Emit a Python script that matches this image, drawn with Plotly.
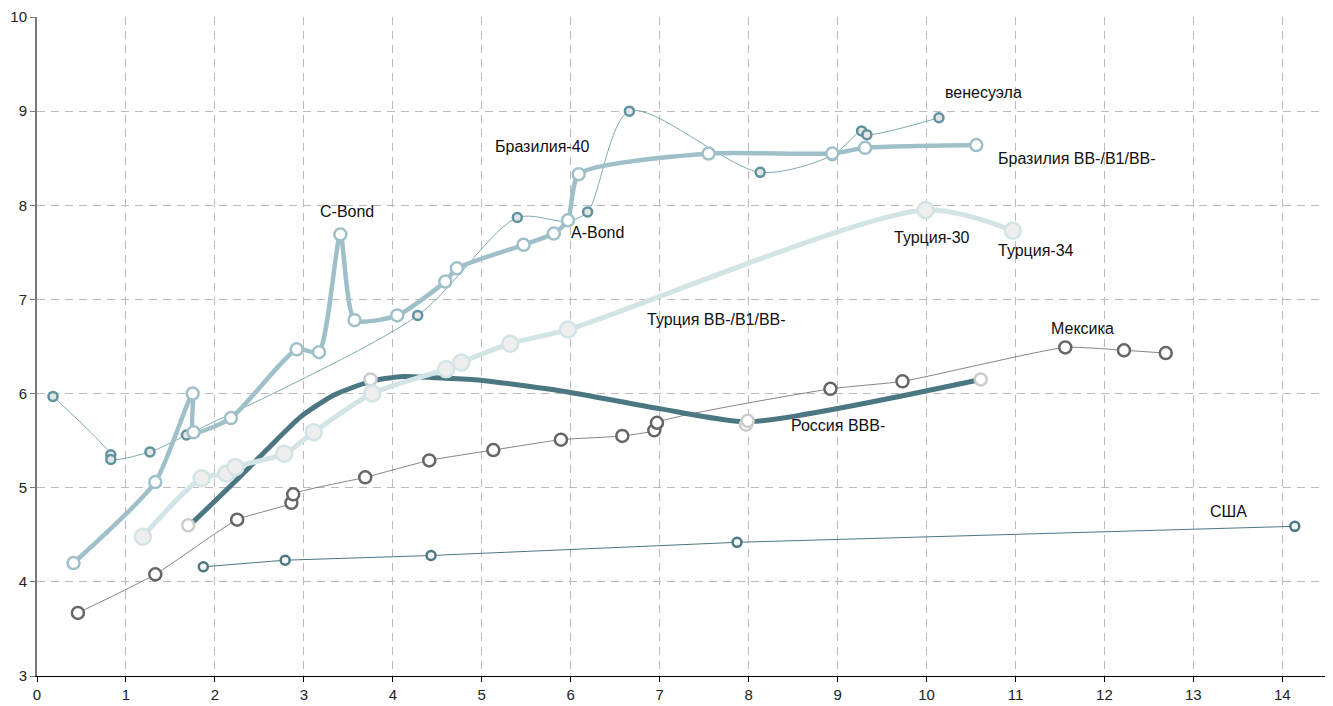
import plotly.graph_objects as go

# ---- data ----
usa_x = [1.87, 2.79, 4.43, 7.87, 14.14]
usa_y = [4.16, 4.23, 4.28, 4.42, 4.59]

mex_x = [0.46, 1.33, 2.25, 2.86, 2.88, 3.69, 4.41, 5.13, 5.89, 6.58, 6.94, 6.97, 8.92, 9.73, 11.56, 12.22, 12.69]
mex_y = [3.67, 4.08, 4.66, 4.84, 4.93, 5.11, 5.29, 5.40, 5.51, 5.55, 5.61, 5.69, 6.05, 6.13, 6.49, 6.46, 6.43]

rus_curve_x = [1.76, 2.21, 2.58, 2.96, 3.33, 3.75, 4.08, 4.64, 5.01, 5.95, 7.00, 8.00, 10.61]
rus_curve_y = [4.64, 5.05, 5.40, 5.75, 5.98, 6.13, 6.18, 6.16, 6.14, 6.02, 5.84, 5.70, 6.15]
rus_bond_x = [1.70, 3.75, 7.97, 7.99, 10.61]
rus_bond_y = [4.60, 6.15, 5.67, 5.71, 6.15]

tur_x = [1.19, 1.85, 2.13, 2.23, 2.78, 3.11, 3.77, 4.60, 4.77, 5.32, 5.97, 9.99, 10.97]
tur_y = [4.48, 5.10, 5.15, 5.22, 5.36, 5.59, 6.00, 6.26, 6.33, 6.53, 6.68, 7.95, 7.73]

bra_x = [0.41, 1.33, 1.75, 1.76, 2.18, 2.92, 3.17, 3.41, 3.57, 4.05, 4.59, 4.72, 5.47, 5.81, 5.97, 6.09, 7.55, 8.94, 9.31, 10.56]
bra_y = [4.20, 5.06, 6.00, 5.59, 5.74, 6.47, 6.44, 7.69, 6.78, 6.83, 7.19, 7.33, 7.58, 7.70, 7.84, 8.33, 8.55, 8.55, 8.61, 8.64]

ven_x = [0.18, 0.83, 0.83, 1.27, 1.68, 4.28, 5.40, 5.96, 6.19, 6.66, 8.13, 8.94, 9.27, 9.33, 10.14]
ven_y = [5.97, 5.35, 5.30, 5.38, 5.56, 6.83, 7.87, 7.83, 7.93, 9.00, 8.35, 8.53, 8.79, 8.75, 8.93]

label_text = ["C-Bond", "Бразилия-40", "A-Bond", "венесуэла", "Бразилия BB-/B1/BB-",
              "Турция-30", "Турция-34", "Турция BB-/B1/BB-", "Мексика", "Россия BBB-", "США"]
label_x = [3.49, 5.68, 6.30, 10.64, 11.69, 10.06, 11.23, 7.64, 11.75, 9.01, 13.40]
label_y = [7.93, 8.62, 7.71, 9.20, 8.50, 7.66, 7.52, 6.79, 6.69, 5.66, 4.75]

x_ticks = list(range(0, 15))
y_ticks = list(range(3, 11))

# ---- styles ----
C_RUS = "#4b7783"
C_BRA = "#9fc0c9"
C_TUR = "#d3e4e7"
C_VEN = "#5f93a0"
C_MEX = "#666666"
FONT = "Liberation Sans, Arial, sans-serif"

fig = go.Figure()

fig.add_trace(go.Scatter(x=usa_x, y=usa_y, mode="lines+markers",
                         line=dict(color=C_RUS, width=1),
                         marker=dict(size=9, color="#f4f4f4", line=dict(color=C_RUS, width=2.5))))

fig.add_trace(go.Scatter(x=mex_x, y=mex_y, mode="lines+markers",
                         line=dict(color=C_MEX, width=0.8, shape="spline", smoothing=0.5),
                         marker=dict(size=12, color="white", line=dict(color=C_MEX, width=2.5))))

fig.add_trace(go.Scatter(x=rus_curve_x, y=rus_curve_y, mode="lines",
                         line=dict(color=C_RUS, width=5, shape="spline", smoothing=0.6)))

fig.add_trace(go.Scatter(x=rus_bond_x, y=rus_bond_y, mode="markers",
                         marker=dict(size=12, color="white", line=dict(color="#cccccc", width=2.5))))

fig.add_trace(go.Scatter(x=tur_x, y=tur_y, mode="lines+markers",
                         line=dict(color=C_TUR, width=5, shape="spline", smoothing=0.8),
                         marker=dict(size=16, color="#eeeeee", line=dict(color=C_TUR, width=2.5))))

fig.add_trace(go.Scatter(x=ven_x, y=ven_y, mode="lines+markers",
                         line=dict(color=C_VEN, width=0.8, shape="spline", smoothing=0.8),
                         marker=dict(size=9, color="#e6e6e6", line=dict(color=C_VEN, width=2.5))))

fig.add_trace(go.Scatter(x=bra_x, y=bra_y, mode="lines+markers",
                         line=dict(color=C_BRA, width=4.5, shape="spline", smoothing=0.6),
                         marker=dict(size=12, color="white", line=dict(color=C_BRA, width=2.5))))

for t, lx, ly in zip(label_text, label_x, label_y):
    fig.add_annotation(x=lx, y=ly, text=t, showarrow=False,
                       font=dict(family=FONT, size=16, color="#111111"))

fig.update_layout(
    width=1325, height=698,
    margin=dict(l=29, r=8, t=9, b=30),
    plot_bgcolor="white", paper_bgcolor="white",
    showlegend=False,
    font=dict(family=FONT, size=14, color="#222222"),
    xaxis=dict(range=[0, 14.48], tickvals=x_ticks, ticktext=[str(v) for v in x_ticks],
               automargin=False, tickfont=dict(family=FONT, size=15, color="#222222"),
               showgrid=True, gridcolor="#bbbbbb", griddash="8px,6px", gridwidth=1,
               zeroline=False, showline=True, linecolor="#000000", linewidth=1,
               ticks="outside", ticklen=5, tickcolor="#000000"),
    yaxis=dict(range=[3, 10], tickvals=y_ticks, ticktext=[str(v) for v in y_ticks],
               automargin=False, tickfont=dict(family=FONT, size=15, color="#222222"),
               showgrid=True, gridcolor="#bbbbbb", griddash="8px,6px", gridwidth=1,
               zeroline=False, showline=True, linecolor="#777777", linewidth=2,
               ticks="outside", ticklen=5, tickcolor="#777777"),
)

fig.write_html("out.html")
